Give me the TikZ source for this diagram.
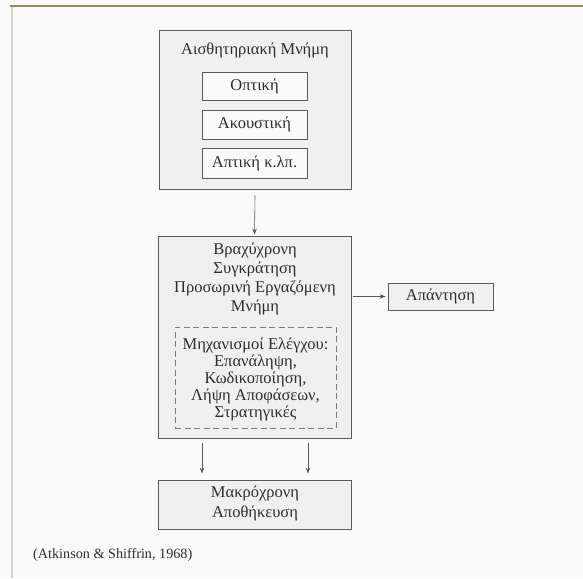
\documentclass[tikz,border=0pt]{standalone}
\usepackage{fontspec}
\setmainfont{Liberation Serif}
\usetikzlibrary{arrows.meta}
\definecolor{pagebg}{RGB}{250,250,251}
\definecolor{boxfill}{RGB}{240,240,241}
\definecolor{edge}{RGB}{90,90,92}
\definecolor{ink}{RGB}{45,45,48}
\begin{document}
\begin{tikzpicture}[x=1pt,y=-1pt,
  every node/.style={text=ink,font=\fontsize{16.5}{19}\selectfont},
  outerbox/.style={draw=edge,line width=0.9pt,fill=boxfill,inner sep=0pt},
  innerbox/.style={draw=edge,line width=0.8pt,fill=white!70!boxfill,inner sep=0pt,minimum width=105,minimum height=28},
  dashbox/.style={draw=edge!80,line width=0.8pt,dash pattern=on 6pt off 3.5pt,inner sep=0pt},
  arr/.style={draw=edge,line width=0.6pt,-{Stealth[length=6pt,width=4.5pt]}},
  multi/.style={align=center,inner sep=0pt}]
\fill[pagebg] (0,0) rectangle (583,578);
\useasboundingbox (0,0) rectangle (583,578);
\draw[gray!70!olive,line width=1.6pt] (10,6) -- (583,6);
\draw[gray!35,line width=1.5pt] (12,7) -- (12,578);

% sensory memory
\node[outerbox,minimum width=192,minimum height=159] (sens) at (255,109.5) {};
\node (senst) at (255,50) {Αισθητηριακή Μνήμη};
\node[innerbox] (opt) at (254.5,86) {Οπτική};
\node[innerbox,minimum height=29] (ako) at (254.5,124.5) {Ακουστική};
\node[innerbox,minimum height=30] (apt) at (254.5,163) {Απτική κ.λπ.};

% short-term memory
\node[outerbox,minimum width=193,minimum height=202] (stm) at (254.5,337) {};
\node[multi,font=\fontsize{16.5}{19}\selectfont] (stmt) at (255,279)
  {Βραχύχρονη\\Συγκράτηση\\Προσωρινή Εργαζόμενη\\Μνήμη};
\node[dashbox,minimum width=161,minimum height=101] (ctrl) at (255.5,377.5) {};
\node[multi,font=\fontsize{16.5}{17}\selectfont] (ctrlt) at (255.5,379)
  {Μηχανισμοί Ελέγχου:\\Επανάληψη,\\Κωδικοποίηση,\\Λήψη Αποφάσεων,\\Στρατηγικές};

% response
\node[innerbox,fill=boxfill,minimum width=105,minimum height=27] (resp) at (440.5,296.5) {Απάντηση};

% long-term memory
\node[outerbox,minimum width=193,minimum height=49] (ltm) at (254.5,504.5) {};
\node[multi,font=\fontsize{16.5}{20}\selectfont] (ltmt) at (255,503) {Μακρόχρονη\\Αποθήκευση};

% citation
\node[anchor=west,inner sep=0pt,font=\fontsize{14.2}{17}\selectfont] (cite) at (33,555) {(Atkinson \& Shiffrin, 1968)};

% arrows
\draw[arr] ([yshift=-6]sens.south) -- ([yshift=1]stm.north);
\draw[arr] ([xshift=2]stm.east |- resp.west) -- ([xshift=-2]resp.west);
\draw[arr] ([xshift=-52.5,yshift=-5]stm.south) -- ([xshift=-52.5,yshift=6]ltm.north);
\draw[arr] ([xshift=53.5,yshift=-5]stm.south) -- ([xshift=53.5,yshift=6]ltm.north);
\end{tikzpicture}
\end{document}
